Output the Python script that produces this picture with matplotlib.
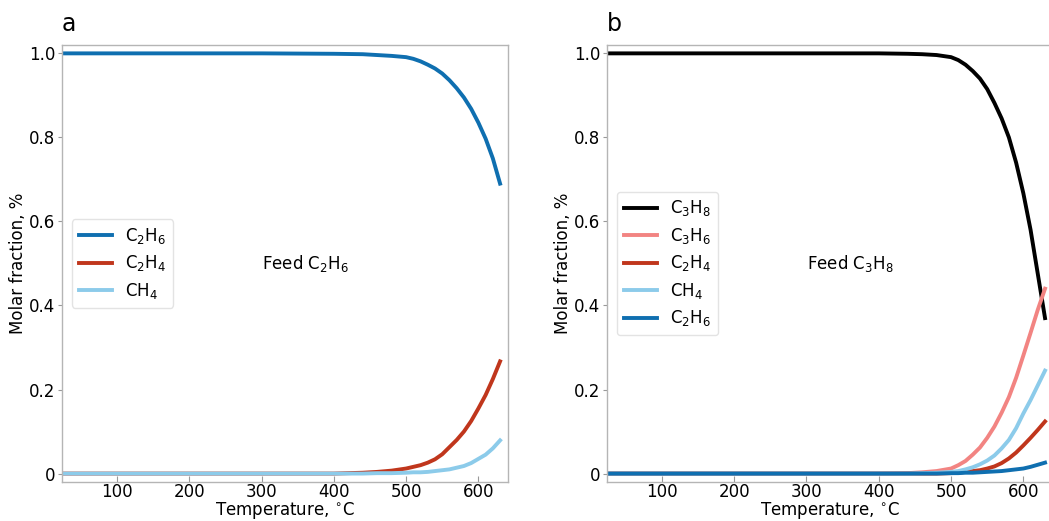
import matplotlib
matplotlib.use("Agg")
import matplotlib.pyplot as plt

temp_a = [25, 100, 200, 300, 400, 440, 460, 480, 500, 510, 520, 530, 540, 550, 560,
          570, 580, 590, 600, 610, 620, 630]
c2h6_a = [1.0, 1.0, 1.0, 1.0, 0.999, 0.998, 0.996, 0.994, 0.991, 0.987, 0.981, 0.973, 0.964,
          0.952, 0.936, 0.917, 0.895, 0.868, 0.835, 0.797, 0.75, 0.69]
c2h4_a = [0.0, 0.0, 0.0, 0.0, 0.0, 0.002, 0.004, 0.007, 0.012, 0.016, 0.02, 0.026, 0.034,
          0.046, 0.063, 0.08, 0.10, 0.125, 0.155, 0.187, 0.225, 0.267]
ch4_a = [0.0, 0.0, 0.0, 0.0, 0.0, 0.0, 0.001, 0.001, 0.002, 0.003, 0.003, 0.004, 0.006,
         0.008, 0.01, 0.014, 0.018, 0.025, 0.035, 0.045, 0.06, 0.079]

temp_b = [25, 100, 200, 300, 400, 440, 460, 480, 500, 510, 520, 530, 540, 550, 560,
          570, 580, 590, 600, 610, 620, 630]
c3h8_b = [1.0, 1.0, 1.0, 1.0, 1.0, 0.999, 0.998, 0.996, 0.991, 0.984, 0.973, 0.958, 0.94,
          0.915, 0.882, 0.845, 0.8, 0.74, 0.667, 0.58, 0.475, 0.37]
c3h6_b = [0.0, 0.0, 0.0, 0.0, 0.0, 0.001, 0.003, 0.006, 0.012, 0.02, 0.03, 0.045, 0.062,
          0.085, 0.112, 0.145, 0.182, 0.228, 0.281, 0.335, 0.39, 0.44]
c2h4_b = [0.0, 0.0, 0.0, 0.0, 0.0, 0.0, 0.0, 0.0, 0.001, 0.002, 0.004, 0.006, 0.008,
          0.012, 0.017, 0.025, 0.036, 0.05, 0.067, 0.085, 0.104, 0.124]
ch4_b = [0.0, 0.0, 0.0, 0.0, 0.0, 0.0, 0.001, 0.002, 0.004, 0.006, 0.01, 0.015, 0.022,
         0.031, 0.043, 0.06, 0.08, 0.108, 0.143, 0.175, 0.21, 0.245]
c2h6_b = [0.0, 0.0, 0.0, 0.0, 0.0, 0.0, 0.0, 0.0, 0.001, 0.001, 0.002, 0.002, 0.003,
          0.004, 0.005, 0.006, 0.008, 0.01, 0.012, 0.016, 0.021, 0.026]

xticks = [100, 200, 300, 400, 500, 600]
yticks = [0, 0.2, 0.4, 0.6, 0.8, 1.0]
ytick_labels = ["0", "0.2", "0.4", "0.6", "0.8", "1.0"]

BLUE = "#0f6fb0"
RED = "#c0361c"
SKY = "#8ccbea"
PINK = "#f28482"
FS = 12

fig = plt.figure(figsize=(10.49, 5.21), dpi=100)
ax1 = fig.add_axes([0.0591, 0.0749, 0.4252, 0.8388])
ax2 = fig.add_axes([0.5786, 0.0749, 0.4252, 0.8388])

lw = 2.8
ax1.plot(temp_a, c2h6_a, color=BLUE, lw=lw, label="C$_2$H$_6$")
ax1.plot(temp_a, c2h4_a, color=RED, lw=lw, label="C$_2$H$_4$")
ax1.plot(temp_a, ch4_a, color=SKY, lw=lw, label="CH$_4$")

ax2.plot(temp_b, c3h8_b, color="black", lw=lw, label="C$_3$H$_8$")
ax2.plot(temp_b, c3h6_b, color=PINK, lw=lw, label="C$_3$H$_6$")
ax2.plot(temp_b, c2h4_b, color=RED, lw=lw, label="C$_2$H$_4$")
ax2.plot(temp_b, ch4_b, color=SKY, lw=lw, label="CH$_4$")
ax2.plot(temp_b, c2h6_b, color=BLUE, lw=lw, label="C$_2$H$_6$")

for ax, letter, feed in [(ax1, "a", "Feed C$_2$H$_6$"), (ax2, "b", "Feed C$_3$H$_8$")]:
    ax.set_xlim(24, 641)
    ax.set_ylim(-0.02, 1.02)
    ax.set_xticks(xticks)
    ax.set_yticks(yticks)
    ax.set_yticklabels(ytick_labels)
    ax.tick_params(axis="x", direction="in", length=4, color="#999999", labelsize=FS, pad=1)
    ax.tick_params(axis="y", direction="out", length=3, color="#999999", labelsize=FS, pad=2)
    for s in ax.spines.values():
        s.set_color("#b5b5b5")
        s.set_linewidth(1.0)
    ax.set_xlabel("Temperature, $^{\\circ}$C", fontsize=FS, labelpad=-1)
    ax.set_ylabel("Molar fraction, %", fontsize=FS, labelpad=1)
    ax.text(0.0, 1.02, letter, transform=ax.transAxes, fontsize=17, va="bottom", ha="left")
    ax.text(0.545, 0.5, feed, transform=ax.transAxes, fontsize=FS, va="center", ha="center")
    leg = ax.legend(loc="center left", fontsize=FS, frameon=True, handlelength=2.0,
                    borderaxespad=0.6, labelspacing=0.45)
    leg.get_frame().set_edgecolor("#dddddd")

fig.savefig("out.png", dpi=100)
